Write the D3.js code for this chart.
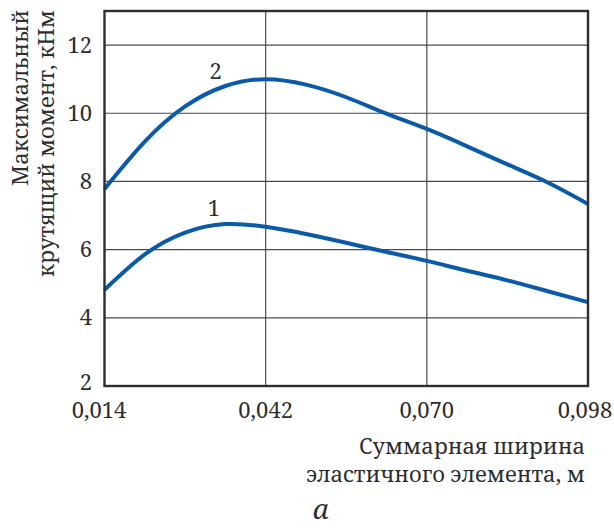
<!DOCTYPE html>
<html>
<head>
<meta charset="utf-8">
<script src="https://cdn.jsdelivr.net/npm/d3@7"></script>
<style>
  html, body { margin: 0; padding: 0; background: #fff; }
</style>
</head>
<body>
<svg id="chart" width="614" height="531"></svg>
<script>
// Width of the elastic element, m
const widths = [0.014, 0.021, 0.028, 0.035, 0.042, 0.049, 0.056, 0.063, 0.070, 0.077, 0.084, 0.091, 0.098];
// Maximum torque, kN·m — curve 1
const torque1 = [4.82, 5.86, 6.50, 6.75, 6.67, 6.46, 6.20, 5.93, 5.67, 5.38, 5.10, 4.78, 4.46];
// Maximum torque, kN·m — curve 2
const torque2 = [7.78, 9.17, 10.20, 10.80, 11.00, 10.84, 10.47, 9.99, 9.54, 9.03, 8.50, 7.97, 7.34];

const xTicks = [0.014, 0.042, 0.070, 0.098];
const yTicks = [2, 4, 6, 8, 10, 12];
const curveLabels = [
  { text: "1", at: 0.0330, value: 6.99 },
  { text: "2", at: 0.0333, value: 11.02 }
];

const FONT = '"Noto Serif", "Liberation Serif", serif';
const INK = "#2e2e2e";
const FS = 22;

const svg = d3.select("#chart").style("font-family", FONT);
const m = { left: 104.5, top: 11, right: 588, bottom: 386 };

const x = d3.scaleLinear().domain([0.014, 0.098]).range([m.left, m.right]);
const y = d3.scaleLinear().domain([2, 13]).range([m.bottom, m.top]);

const fmt = v => d3.format(".3f")(v).replace(".", ",");

// grid
const grid = svg.append("g").attr("stroke", "#4a4a4a").attr("stroke-width", 1.2);
grid.selectAll("line.h").data(yTicks.filter(t => t > 2)).join("line")
  .attr("x1", m.left).attr("x2", m.right)
  .attr("y1", d => y(d)).attr("y2", d => y(d));
grid.selectAll("line.v").data(xTicks.slice(1, -1)).join("line")
  .attr("x1", d => x(d)).attr("x2", d => x(d))
  .attr("y1", m.top).attr("y2", m.bottom);

// curves
const line = d3.line().x(d => x(d[0])).y(d => y(d[1])).curve(d3.curveNatural);
[torque1, torque2].forEach(series => {
  svg.append("path")
    .datum(widths.map((w, i) => [w, series[i]]))
    .attr("fill", "none")
    .attr("stroke", "#0a5aa8")
    .attr("stroke-width", 4)
    .attr("d", line);
});

// frame
svg.append("rect")
  .attr("x", m.left).attr("y", m.top)
  .attr("width", m.right - m.left).attr("height", m.bottom - m.top)
  .attr("fill", "none").attr("stroke", INK).attr("stroke-width", 2.4);

const txt = sel => sel.style("font-family", FONT).attr("fill", INK);

// tick labels (the lowest one sits a little higher so it clears the x labels)
svg.append("g").selectAll("text").data(yTicks).join("text")
  .call(txt)
  .attr("x", 92).attr("y", d => y(d) + (d === yTicks[0] ? 3.5 : 7.5))
  .attr("text-anchor", "end").attr("font-size", FS)
  .text(d => d);

svg.append("g").selectAll("text").data(xTicks).join("text")
  .call(txt)
  .attr("x", (d, i) => x(d) + (i === 0 ? -5.5 : i === xTicks.length - 1 ? -3 : 0))
  .attr("y", 418)
  .attr("text-anchor", "middle").attr("font-size", FS)
  .text(fmt);

// curve numbers
svg.append("g").selectAll("text").data(curveLabels).join("text")
  .call(txt)
  .attr("x", d => x(d.at)).attr("y", d => y(d.value))
  .attr("text-anchor", "middle").attr("font-size", FS)
  .text(d => d.text);

// axis titles
const xt = svg.append("text").call(txt).attr("text-anchor", "end").attr("font-size", FS);
xt.append("tspan").attr("x", 585).attr("y", 454).text("Суммарная ширина");
xt.append("tspan").attr("x", 585).attr("y", 482).text("эластичного элемента, м");

const yt = svg.append("text").call(txt).attr("text-anchor", "end").attr("font-size", FS)
  .attr("transform", "translate(0,10) rotate(-90)");
yt.append("tspan").attr("x", 0).attr("y", 28).text("Максимальный");
yt.append("tspan").attr("x", 0).attr("y", 53.5).text("крутящий момент, кНм");

// panel letter
svg.append("text").call(txt).attr("x", 321).attr("y", 519).attr("text-anchor", "middle")
  .attr("font-size", 28).attr("font-style", "italic").text("а");
</script>
</body>
</html>
